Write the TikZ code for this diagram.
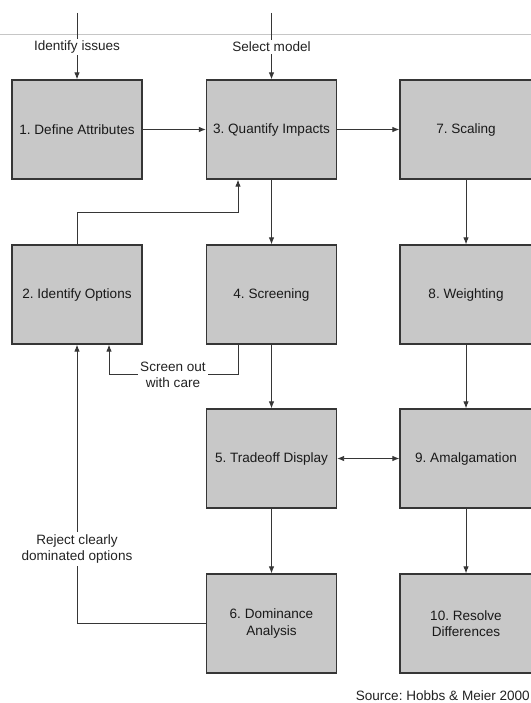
\documentclass[tikz,border=0pt]{standalone}
\usepackage{fontspec}
\setmainfont{Liberation Sans}
\usetikzlibrary{arrows.meta}
\definecolor{boxfill}{HTML}{C8C8C8}
\definecolor{boxline}{HTML}{363636}
\definecolor{inktext}{HTML}{222222}
\frenchspacing
\begin{document}
\begin{tikzpicture}[x=1bp,y=-1bp,
  every node/.style={font=\fontsize{13.6}{16.5}\selectfont, text=inktext},
  stepbox/.style={draw=boxline, fill=boxfill, line width=1.3bp,
    minimum width=130bp, minimum height=99bp, inner sep=0pt, align=center,
    text=black!90},
  widebox/.style={stepbox, minimum width=132bp},
  conn/.style={draw=boxline, line width=0.9bp},
  arr/.style={conn, -{Latex[length=7bp,width=5.5bp]}},
  darr/.style={conn, {Latex[length=7bp,width=5.5bp]}-{Latex[length=7bp,width=5.5bp]}},
  tag/.style={fill=white, inner sep=2bp, align=center}]
\useasboundingbox (0,0) rectangle (531,703);
\clip (0,0) rectangle (531,703);
\fill[white] (0,0) rectangle (531,703);

% faint rule across the top
\draw[gray!45, line width=0.8bp] (0,34) -- (531,34);

% process steps
\node[stepbox] (b1) at (77,129.5) {1. Define Attributes};
\node[stepbox] (b3) at (271.5,129.5) {3. Quantify Impacts};
\node[widebox] (b7) at (466,129.5) {7. Scaling};
\node[stepbox] (b2) at (77,294.5) {2. Identify Options};
\node[stepbox] (b4) at (271.5,294.5) {4. Screening};
\node[widebox] (b8) at (466,294.5) {8. Weighting};
\node[stepbox] (b5) at (271.5,458.5) {5. Tradeoff Display};
\node[widebox] (b9) at (466,458.5) {9. Amalgamation};
\node[stepbox] (b6) at (271.5,623.5) {6. Dominance\\Analysis};
\node[widebox] (b10) at (466,623.5) {10. Resolve\\Differences};

% inputs from above
\coordinate (in1) at (77,13);
\coordinate (in3) at (271.5,13);
\draw[arr] (in1) -- (b1.north);
\draw[arr] (in3) -- (b3.north);
\node[tag] (t1) at (77,47) {Identify issues};
\node[tag] (t3) at (271.5,47) {Select model};

% main flow
\draw[arr] (b1) -- (b3);
\draw[arr] (b3) -- (b7);
\draw[arr] (b3) -- (b4);
\draw[arr] (b7) -- (b8);
\draw[arr] (b4) -- (b5);
\draw[arr] (b8) -- (b9);
\draw[darr] (b5) -- (b9);
\draw[arr] (b5) -- (b6);
\draw[arr] (b9) -- (b10);

% options feed into impact quantification
\coordinate (c1) at (238,212);
\draw[arr] (b2.north) |- (c1) -- (c1 |- b3.south);

% screening loop back to options
\coordinate (s1) at (238,374);
\coordinate (s2) at (109,374);
\draw[arr] (s1 |- b4.south) -- (s1) -- (s2) -- (s2 |- b2.south);
\node[tag] (t4) at (173,375) {Screen out\\with care};

% dominance loop back to options
\draw[arr] (b6.west) -| (b2.south);
\node[tag] (t6) at (77,549) {Reject clearly\\dominated options};

% source line
\node[anchor=east, inner sep=0pt] (src) at (530,696) {Source: Hobbs \& Meier 2000};
\end{tikzpicture}
\end{document}
